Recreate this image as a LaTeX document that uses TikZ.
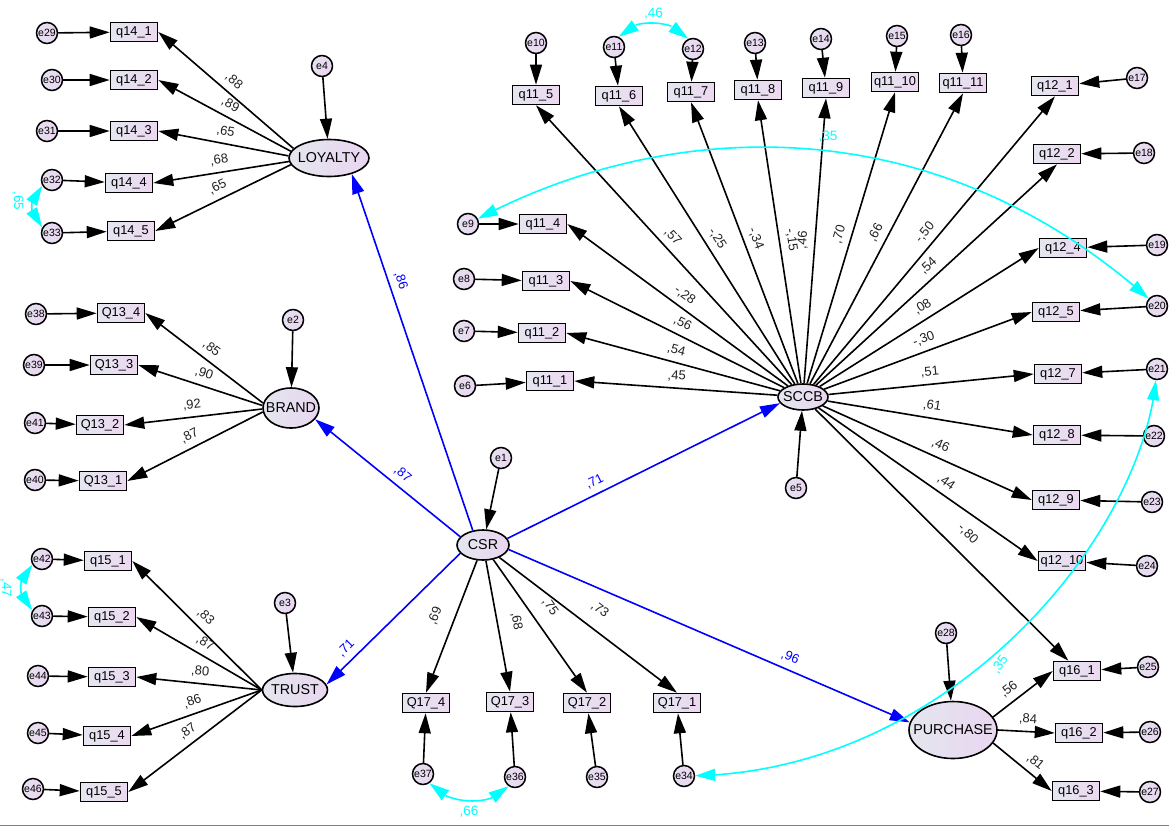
\documentclass[tikz,border=0pt]{standalone}
\usepackage{fontspec}
\setmainfont{Liberation Sans}
\usetikzlibrary{arrows.meta,shapes.geometric,bending}
\definecolor{boxL}{HTML}{E4E6F0}
\definecolor{boxR}{HTML}{ECD8F0}
\definecolor{ellL}{HTML}{E4E6EE}
\definecolor{ellR}{HTML}{E9D6F0}
\definecolor{errL}{HTML}{E6E0F0}
\definecolor{errR}{HTML}{EAD6F0}
\definecolor{amosblue}{HTML}{0000FF}
\definecolor{amoscyan}{HTML}{00FFFF}
\definecolor{lbltxt}{HTML}{222222}
\newcommand\zw[1]{\makebox[0pt]{#1}}
\begin{document}
\begin{tikzpicture}[x=1pt,y=1pt,
  >={Triangle[length=20pt,width=12pt]},
  obs/.style={rectangle, draw=black, line width=1.6pt, minimum width=47pt, minimum height=19pt, inner sep=0pt, left color=boxL, right color=boxR, font=\fontsize{12.8}{14}\selectfont},
  lat/.style={ellipse, draw=black, line width=1.6pt, inner sep=0pt, left color=ellL, right color=ellR, font=\fontsize{14.3}{16}\selectfont},
  err/.style={circle, draw=black, line width=1.5pt, minimum size=21pt, inner sep=0pt, left color=errL, right color=errR, font=\fontsize{10.5}{11}\selectfont},
  ld/.style={draw=black, line width=1.6pt, ->},
  reg/.style={draw=amosblue, line width=1.6pt, ->},
  cov/.style={draw=amoscyan, line width=1.6pt, <->},
  lbl/.style={sloped, above=5pt, inner sep=1pt, font=\fontsize{13}{14}\selectfont, text=lbltxt},
  rlbl/.style={lbl, text=amosblue},
  covl/.style={inner sep=1pt, font=\fontsize{13.5}{15}\selectfont, text=amoscyan}
]
\fill[white] (0,0) rectangle (1169,-827);
\useasboundingbox (0,0) rectangle (1169,-827);
\draw[gray, line width=1.5pt] (0,-825.5) -- (1169,-825.5);

% ---------- latent variables
\node[lat, minimum width=80pt, minimum height=37pt] (LOYALTY) at (329,-158) {\zw{LOYALTY}};
\node[lat, minimum width=56pt, minimum height=40pt] (BRAND) at (291,-408) {\zw{BRAND}};
\node[lat, minimum width=65pt, minimum height=33pt] (TRUST) at (295,-690) {\zw{TRUST}};
\node[lat, minimum width=52pt, minimum height=30pt] (CSR) at (483,-545) {\zw{CSR}};
\node[lat, minimum width=50pt, minimum height=26pt] (SCCB) at (803,-397) {\zw{SCCB}};
\node[lat, minimum width=88pt, minimum height=57pt] (PURCHASE) at (953,-730) {\zw{PURCHASE}};

% ---------- LOYALTY indicators
\node[obs] (q14-1) at (134,-32) {q14\_1};
\node[obs] (q14-2) at (134,-80) {q14\_2};
\node[obs] (q14-3) at (134,-131) {q14\_3};
\node[obs] (q14-4) at (129,-183) {q14\_4};
\node[obs] (q14-5) at (131,-231) {q14\_5};
\node[err] (e29) at (47,-33) {e29};
\node[err] (e30) at (52,-80) {e30};
\node[err] (e31) at (47,-131) {e31};
\node[err] (e32) at (52,-180) {e32};
\node[err] (e33) at (52,-233) {e33};
\node[err] (e4) at (322,-66) {e4};

% ---------- BRAND indicators
\node[obs] (Q13-4) at (121,-313) {Q13\_4};
\node[obs] (Q13-3) at (114,-365) {Q13\_3};
\node[obs] (Q13-2) at (100,-425) {Q13\_2};
\node[obs] (Q13-1) at (103,-481) {Q13\_1};
\node[err] (e38) at (36,-314) {e38};
\node[err] (e39) at (34,-365) {e39};
\node[err] (e41) at (35,-423) {e41};
\node[err] (e40) at (35,-480) {e40};
\node[err] (e2) at (293,-320) {e2};

% ---------- TRUST indicators
\node[obs] (q15-1) at (108,-561) {q15\_1};
\node[obs] (q15-2) at (112,-617) {q15\_2};
\node[obs] (q15-3) at (112,-677) {q15\_3};
\node[obs] (q15-4) at (107,-736) {q15\_4};
\node[obs] (q15-5) at (104,-792) {q15\_5};
\node[err] (e42) at (42,-559) {e42};
\node[err] (e43) at (42,-616) {e43};
\node[err] (e44) at (38,-676) {e44};
\node[err] (e45) at (38,-733) {e45};
\node[err] (e46) at (33,-789) {e46};
\node[err] (e3) at (285,-603) {e3};

% ---------- CSR indicators
\node[err] (e1) at (501,-458) {e1};
\node[obs] (Q17-4) at (426,-703) {Q17\_4};
\node[obs] (Q17-3) at (510,-702) {Q17\_3};
\node[obs] (Q17-2) at (587,-703) {Q17\_2};
\node[obs] (Q17-1) at (677,-703) {Q17\_1};
\node[err] (e37) at (423,-774) {e37};
\node[err] (e36) at (515,-777) {e36};
\node[err] (e35) at (597,-777) {e35};
\node[err] (e34) at (684,-776) {e34};

% ---------- SCCB indicators
\node[err] (e5) at (796,-488) {e5};
\node[obs] (q11-5) at (536,-95) {q11\_5};
\node[obs] (q11-6) at (619,-96) {q11\_6};
\node[obs] (q11-7) at (691,-92) {q11\_7};
\node[obs] (q11-8) at (758,-90) {q11\_8};
\node[obs] (q11-9) at (826,-88) {q11\_9};
\node[obs] (q11-10) at (895,-82) {q11\_10};
\node[obs] (q11-11) at (963,-83) {q11\_11};
\node[obs] (q12-1) at (1055,-86) {q12\_1};
\node[obs] (q12-2) at (1057,-154) {q12\_2};
\node[obs] (q12-4) at (1063,-248) {q12\_4};
\node[obs] (q12-5) at (1056,-312) {q12\_5};
\node[obs] (q12-7) at (1058,-374) {q12\_7};
\node[obs] (q12-8) at (1057,-435) {q12\_8};
\node[obs] (q12-9) at (1056,-500) {q12\_9};
\node[obs] (q12-10) at (1062,-561) {q12\_10};
\node[obs] (q11-4) at (543,-224) {q11\_4};
\node[obs] (q11-3) at (546,-281) {q11\_3};
\node[obs] (q11-2) at (542,-333) {q11\_2};
\node[obs] (q11-1) at (550,-381) {q11\_1};
\node[err] (e10) at (536,-43) {e10};
\node[err] (e11) at (614,-47) {e11};
\node[err] (e12) at (693,-49) {e12};
\node[err] (e13) at (755,-43) {e13};
\node[err] (e14) at (821,-39) {e14};
\node[err] (e15) at (897,-36) {e15};
\node[err] (e16) at (961,-35) {e16};
\node[err] (e17) at (1137,-78) {e17};
\node[err] (e18) at (1144,-153) {e18};
\node[err] (e19) at (1157,-245) {e19};
\node[err] (e20) at (1157,-306) {e20};
\node[err] (e21) at (1157,-369) {e21};
\node[err] (e22) at (1154,-436) {e22};
\node[err] (e23) at (1152,-502) {e23};
\node[err] (e24) at (1147,-566) {e24};
\node[err] (e9) at (468,-224) {e9};
\node[err] (e8) at (464,-279) {e8};
\node[err] (e7) at (464,-331) {e7};
\node[err] (e6) at (465,-386) {e6};

% ---------- PURCHASE indicators
\node[err] (e28) at (946,-633) {e28};
\node[obs] (q16-1) at (1077,-671) {q16\_1};
\node[obs] (q16-2) at (1079,-733) {q16\_2};
\node[obs] (q16-3) at (1076,-791) {q16\_3};
\node[err] (e25) at (1148,-667) {e25};
\node[err] (e26) at (1150,-732) {e26};
\node[err] (e27) at (1150,-792) {e27};

% ---------- error arrows
\foreach \e/\q in {e29/q14-1,e30/q14-2,e31/q14-3,e32/q14-4,e33/q14-5,
  e38/Q13-4,e39/Q13-3,e41/Q13-2,e40/Q13-1,
  e42/q15-1,e43/q15-2,e44/q15-3,e45/q15-4,e46/q15-5,
  e37/Q17-4,e36/Q17-3,e35/Q17-2,e34/Q17-1,
  e10/q11-5,e11/q11-6,e12/q11-7,e13/q11-8,e14/q11-9,e15/q11-10,e16/q11-11,
  e17/q12-1,e18/q12-2,e19/q12-4,e20/q12-5,e21/q12-7,e22/q12-8,e23/q12-9,e24/q12-10,
  e9/q11-4,e8/q11-3,e7/q11-2,e6/q11-1,
  e25/q16-1,e26/q16-2,e27/q16-3,
  e4/LOYALTY,e2/BRAND,e3/TRUST,e1/CSR,e5/SCCB,e28/PURCHASE}
  {\draw[ld] (\e) -- (\q);}

% ---------- LOYALTY loadings
\draw[ld] (LOYALTY.165) -- node[lbl]{,88} (q14-1.east);
\draw[ld] (LOYALTY.170) -- node[lbl]{,89} (q14-2.east);
\draw[ld] (LOYALTY.177) -- node[lbl]{,65} (q14-3.east);
\draw[ld] (LOYALTY.185) -- node[lbl]{,68} (q14-4.east);
\draw[ld] (LOYALTY.190) -- node[lbl]{,65} (q14-5.east);
% ---------- BRAND loadings
\draw[ld] (BRAND.170) -- node[lbl]{,85} (Q13-4.east);
\draw[ld] (BRAND.175) -- node[lbl]{,90} (Q13-3.east);
\draw[ld] (BRAND.182) -- node[lbl]{,92} (Q13-2.east);
\draw[ld] (BRAND.188) -- node[lbl]{,87} (Q13-1.east);
% ---------- TRUST loadings
\draw[ld] (TRUST.west) -- node[lbl]{,83} (q15-1.east);
\draw[ld] (TRUST.west) -- node[lbl]{,87} (q15-2.east);
\draw[ld] (TRUST.west) -- node[lbl]{,80} (q15-3.east);
\draw[ld] (TRUST.west) -- node[lbl]{,86} (q15-4.east);
\draw[ld] (TRUST.west) -- node[lbl]{,87} (q15-5.east);
% ---------- CSR loadings
\draw[ld] (CSR) -- node[lbl, pos=0.47, above=7pt]{,69} (Q17-4.north);
\draw[ld] (CSR) -- node[lbl, pos=0.49, above=7pt]{,68} (Q17-3.north);
\draw[ld] (CSR) -- node[lbl, pos=0.44, above=7pt]{,75} (Q17-2.north);
\draw[ld] (CSR) -- node[lbl, pos=0.50, above=7pt]{,73} (Q17-1.north);
% ---------- SCCB loadings
\draw[ld] (SCCB) -- node[lbl]{,57} (q11-5.south);
\draw[ld] (SCCB) -- node[lbl]{-,25} (q11-6.south);
\draw[ld] (SCCB) -- node[lbl]{-,34} (q11-7.south);
\draw[ld] (SCCB) -- node[lbl]{-,15} (q11-8.south);
\draw[ld] (SCCB) -- node[lbl]{,46} (q11-9.south);
\draw[ld] (SCCB) -- node[lbl]{,70} (q11-10.south);
\draw[ld] (SCCB) -- node[lbl]{,66} (q11-11.south);
\draw[ld] (SCCB) -- node[lbl]{-,50} (q12-1.south);
\draw[ld] (SCCB) -- node[lbl]{,54} (q12-2.south);
\draw[ld] (SCCB) -- node[lbl]{,08} (q12-4.west);
\draw[ld] (SCCB) -- node[lbl]{-,30} (q12-5.west);
\draw[ld] (SCCB) -- node[lbl]{,51} (q12-7.west);
\draw[ld] (SCCB) -- node[lbl]{,61} (q12-8.west);
\draw[ld] (SCCB) -- node[lbl, pos=0.54]{,46} (q12-9.west);
\draw[ld] (SCCB) -- node[lbl, pos=0.55]{,44} (q12-10.west);
\draw[ld] (SCCB) -- node[lbl, pos=0.55, above=7pt]{-,80} (q16-1.130);
\draw[ld] (SCCB) -- node[lbl]{-,28} (q11-4.east);
\draw[ld] (SCCB) -- node[lbl]{,56} (q11-3.east);
\draw[ld] (SCCB) -- node[lbl]{,54} (q11-2.east);
\draw[ld] (SCCB) -- node[lbl]{,45} (q11-1.east);
% ---------- PURCHASE loadings
\draw[ld] (PURCHASE.18) -- node[lbl, pos=0.39]{,56} (q16-1.west);
\draw[ld] (PURCHASE.east) -- node[lbl, pos=0.52]{,84} (q16-2.west);
\draw[ld] (PURCHASE.-18) -- node[lbl, pos=0.59]{,81} (q16-3.west);

% ---------- structural paths
\draw[reg] (CSR.125) -- node[rlbl, pos=0.69]{,86} (LOYALTY.-35);
\draw[reg] (CSR.160) -- node[rlbl, pos=0.45]{,87} (BRAND.-25);
\draw[reg] (CSR.200) -- node[rlbl, pos=0.79]{,71} (TRUST.10);
\draw[reg] (CSR.15) -- node[rlbl, pos=0.34]{,71} (SCCB.195);
\draw[reg] (CSR.-10) -- node[rlbl, pos=0.69]{,96} (PURCHASE.170);

% ---------- covariances
\draw[cov] (e32) to[out=210,in=150] (e33);
\draw[cov] (e42) to[out=210,in=150] (e43);
\draw[cov] (e11) to[out=65,in=115,looseness=0.8] node[covl, above=2pt]{,46} (e12);
\draw[cov] (e37) to[out=-55,in=-125,looseness=0.85] node[covl, below=3pt]{,66} (e36);
\draw[cov] (e9) .. controls (663,-121) and (927,-102) .. (e20);
\draw[cov] (e34) .. controls (950,-770) and (1140,-540) .. (e21);
\node[covl, rotate=-90] (c65) at (18,-201) {,65};
\node[covl, rotate=-90] (c47) at (6,-588) {,47};
\node[covl] (c35a) at (828,-137) {,35};
\node[covl, rotate=55] (c35b) at (1000,-665) {,35};
\end{tikzpicture}
\end{document}
